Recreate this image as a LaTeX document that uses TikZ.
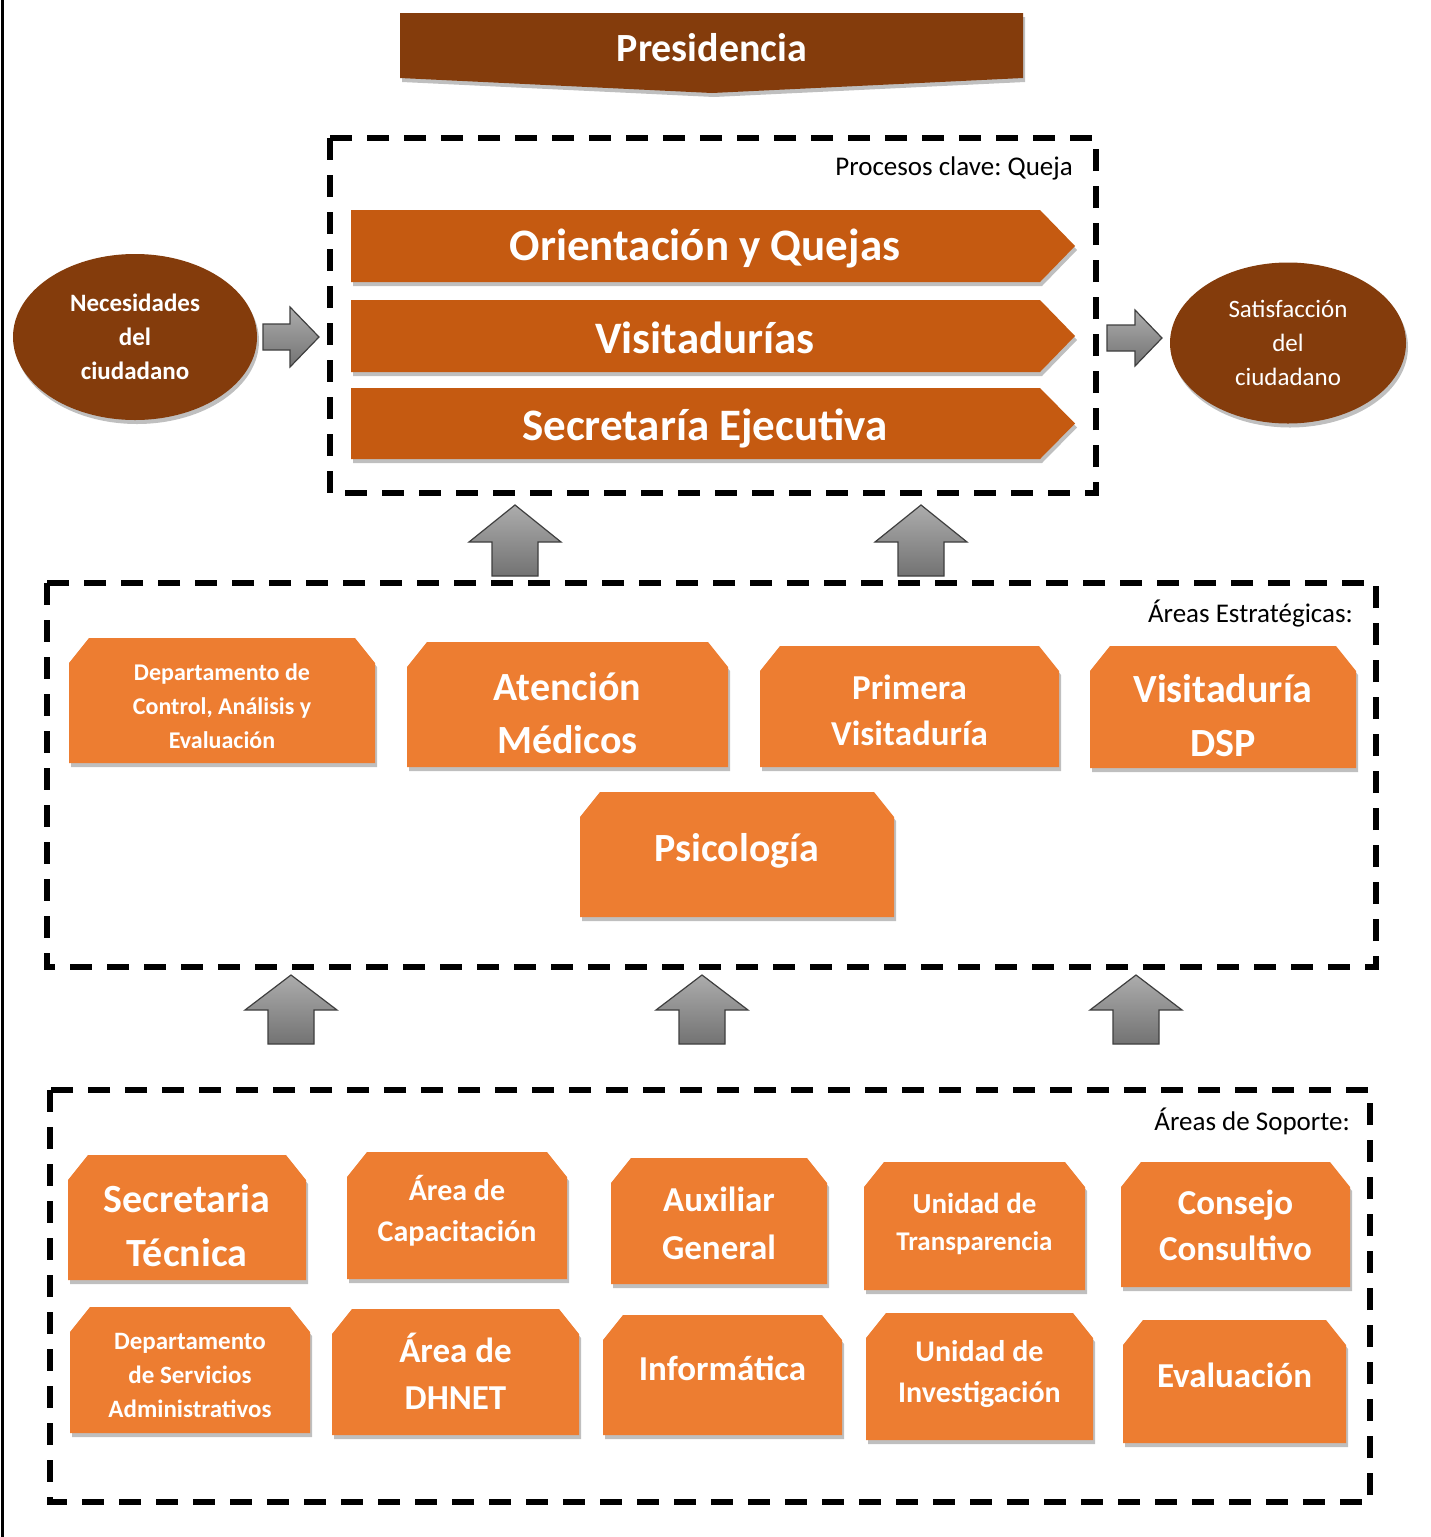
\documentclass[tikz,border=0pt]{standalone}
\usepackage{fontspec}
\setmainfont{Carlito}
\frenchspacing
\usetikzlibrary{shapes.geometric,shadows}
\definecolor{brownD}{HTML}{843C0C}
\definecolor{orangeD}{HTML}{C55A11}
\definecolor{orangeL}{HTML}{ED7D31}
\definecolor{arrowedge}{HTML}{3F3F3F}
\newcommand\fs[2]{\fontsize{#1}{#2}\selectfont\bfseries}
\tikzset{
  shad/.style={drop shadow={shadow xshift=2pt,shadow yshift=-4pt,opacity=.25,fill=black}},
  dashbox/.style={draw=black,line width=6pt,dash pattern=on 22pt off 15pt},
  boxtxt/.style={text=white,align=center,inner sep=0pt},
  lbl/.style={text=black,inner sep=0pt,anchor=east,font=\fontsize{27}{32}\selectfont},
  garrow/.style={draw=arrowedge,line width=1.2pt,line join=miter,top color=gray!65,bottom color=gray!90!black},
  brownell/.style={ellipse,fill=brownD,shad,inner sep=0pt,text=white,align=center},
}
\newcommand\obox[8]{%
  \fill[orangeL,shad] (#2+20,#3) -- (#4-20,#3) -- (#4,#3+25) -- (#4,#5) -- (#2,#5) -- (#2,#3+25) -- cycle;
  \node[boxtxt,font=#6] (#1) at ({(#2+#4)/2},{(#3+#5)/2+#7}) {#8};}
\newcommand\banner[5]{%
  \fill[orangeD,shad] (351,#2) -- (1040,#2) -- (1075,{(#2+#3)/2}) -- (1040,#3) -- (351,#3) -- cycle;
  \node[boxtxt,font=\fs{45}{54}] (#1) at (705,{(#2+#3)/2+#4}) {#5};}
\newcommand\uparr[4]{%
  \draw[garrow] (#1,#2) -- (#1+46,#3) -- (#1+23,#3) -- (#1+23,#4) -- (#1-23,#4) -- (#1-23,#3) -- (#1-46,#3) -- cycle;}
\begin{document}
\begin{tikzpicture}[x=1pt,y=-1pt]
\fill[white] (0,0) rectangle (1431,1537);
\useasboundingbox (0,0) rectangle (1431,1537);
\draw[line width=3pt] (2,0) -- (2,1537);

% Presidencia
\fill[brownD,shad] (400,13) -- (1023,13) -- (1023,78) -- (712,93) -- (400,78) -- cycle;
\node[boxtxt,font=\fs{40}{48}] (pres) at (712,48) {Presidencia};

% Procesos clave
\draw[dashbox] (330,138) rectangle (1096,493);
\node[lbl] (lk) at (1073,168) {Procesos clave: Queja};
\banner{oq}{210}{282}{3}{Orientación y Quejas}
\banner{vis}{300}{372}{2}{Visitadurías}
\banner{se}{388}{459}{5}{Secretaría Ejecutiva}

% ellipses
\node[brownell,minimum width=244pt,minimum height=166pt,font=\fs{25}{34}] (nec) at (135,337) {Necesidades\\del\\ciudadano};
\node[brownell,minimum width=236pt,minimum height=161pt,font=\fontsize{25}{34}\selectfont] (sat) at (1288,343) {Satisfacción\\del\\ciudadano};

% side arrows
\draw[garrow] (263,324) -- (290,324) -- (290,307) -- (319,337) -- (290,367) -- (290,350) -- (263,350) -- cycle;
\draw[garrow] (1107,325) -- (1135,325) -- (1135,310) -- (1162,338) -- (1135,366) -- (1135,351) -- (1107,351) -- cycle;

% up arrows (top)
\uparr{515}{505}{542}{576}
\uparr{921}{505}{542}{576}

% Areas estrategicas
\draw[dashbox] (47,583) rectangle (1376,967);
\node[lbl] (le) at (1353,614) {Áreas Estratégicas:};
\obox{dca}{69}{638}{375}{763}{\fs{24}{34}}{6}{Departamento de\\Control, Análisis y\\Evaluación}
\obox{ame}{407}{642}{728}{767}{\fs{40}{53}}{9}{Atención\\Médicos}
\obox{pv}{760}{646}{1059}{767}{\fs{35}{46}}{4}{Primera\\Visitaduría}
\obox{vdsp}{1090}{646}{1356}{768}{\fs{40}{54}}{9}{Visitaduría\\DSP}
\obox{psi}{580}{792}{894}{917}{\fs{40}{48}}{-4}{Psicología}

% up arrows (bottom)
\uparr{291}{975}{1010}{1044}
\uparr{702}{975}{1010}{1044}
\uparr{1136}{975}{1010}{1044}

% Areas de soporte
\draw[dashbox] (50,1090) rectangle (1370,1502);
\node[lbl] (ls) at (1350,1121) {Áreas de Soporte:};
\obox{st}{68}{1155}{306}{1280}{\fs{40}{54}}{8}{Secretaria\\Técnica}
\obox{cap}{347}{1152}{567}{1279}{\fs{30}{41}}{-5}{Área de\\Capacitación}
\obox{aux}{611}{1158}{827}{1284}{\fs{35}{48}}{2}{Auxiliar\\General}
\obox{ut}{864}{1162}{1085}{1290}{\fs{29}{37}}{-2}{Unidad de\\{\fontsize{27}{37}\selectfont Transparencia}}
\obox{cc}{1121}{1162}{1350}{1287}{\fs{35}{46}}{1}{Consejo\\Consultivo}
\obox{dsa}{70}{1307}{310}{1433}{\fs{25}{34}}{5}{Departamento\\de Servicios\\Administrativos}
\obox{dh}{332}{1309}{579}{1435}{\fs{35}{47}}{-1}{Área de\\DHNET}
\obox{inf}{603}{1315}{842}{1435}{\fs{35}{42}}{-7}{Informática}
\obox{ui}{866}{1313}{1093}{1440}{\fs{30}{41}}{-3}{Unidad de\\Investigación}
\obox{ev}{1123}{1320}{1346}{1443}{\fs{35}{42}}{-6}{Evaluación}
\end{tikzpicture}
\end{document}
